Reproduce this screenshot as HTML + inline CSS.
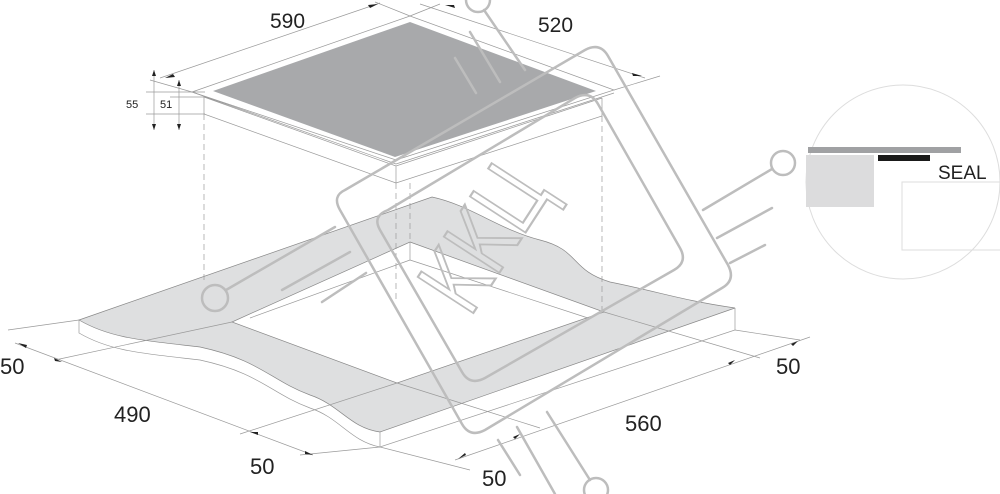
<!DOCTYPE html>
<html><head><meta charset="utf-8"><style>
html,body{margin:0;padding:0;background:#fff;}
svg{display:block;}
text{font-family:"Liberation Sans",sans-serif;fill:#222;}
</style></head><body>
<svg width="1000" height="494" viewBox="0 0 1000 494" xmlns="http://www.w3.org/2000/svg">
<g fill="none" stroke="#9a9a9a" stroke-width="0.7">
<path d="M79,320 L432,197 C470,205 500,230 540,240 C580,250 570,270 610,282 C660,292 680,300 735,308 L380,432 C350,428 340,405 310,395 C270,380 260,360 200,347 C140,340 110,338 79,320 Z" fill="#dedfe0" stroke="#888"/>
<path d="M410,242 L604,312 L397,383 L232,322 Z" fill="#fff" stroke="#888"/>
<path d="M410,242 L410,260 M410,260 L588,318 M410,260 L250,318"/>
<path d="M79,320 L79,333 C110,351 140,353 200,360 C260,373 270,393 310,408 C340,418 350,441 380,447 L735,330 L735,308"/>
<path d="M380,432 L380,447"/>
<path d="M192,92 L410,16 L614,90 L396,160 Z" fill="#fff" stroke="#999"/>
<path d="M213,91 L410,22 L596,91 L395,157 Z" fill="#a8a9ab" stroke="none"/>
<path d="M192,92 L396,164 L614,93 M204,97 L396,166 L602,98 M204,97 L204,114 L396,183 L602,116 L602,98 M396,166 L396,183"/>
<path d="M204,114 L204,282 M396,183 L396,300 M410,183 L410,242 M602,116 L602,312" stroke-dasharray="6,4"/>
<path d="M160,78 L380,3 M150,80 L192,92 M420,4 L645,78 M614,90 L660,76 M410,16 L375,2 M410,16 L440,4"/>
<path d="M154,70 L154,130 M179,80 L179,130 M146,92 L205,92 M146,114 L205,114 M170,97 L205,97"/>
<path d="M15,343 L313,455 M8,330 L79,320 M55,360 L232,322 M240,434 L397,383 M300,455 L380,447 M455,460 L810,337 M380,447 L470,470 M735,330 L800,340 M604,312 L760,358 M397,383 L540,428"/>
</g>
<g fill="#222">
<path d="M165,78 l10,-1 l-2,-3z M378,4 l-10,1 l2,3z M445,5 l10,3 l-1,-3z M642,76 l-10,-3 l1,3z"/>
<path d="M154,70 l-2,6 l4,0z M154,130 l-2,-6 l4,0z M179,80 l-2,6 l4,0z M179,130 l-2,-6 l4,0z"/>
<path d="M18,343 l8,5 l1,-3z M62,362 l-8,-4 l1,3z M250,432 l8,3 l0,-3z M313,455 l-8,-4 l0,3z M458,459 l8,-4 l-1,-2z M520,434 l-7,3 l2,2z M735,360 l-7,3 l2,2z M798,341 l-7,3 l2,2z"/>
</g>
<text x="270" y="28" font-size="21">590</text>
<text x="538" y="32" font-size="21">520</text>
<text x="126" y="108" font-size="11">55</text>
<text x="160" y="108" font-size="11">51</text>
<text x="0" y="374" font-size="22">50</text>
<text x="114" y="422" font-size="22">490</text>
<text x="250" y="474" font-size="22">50</text>
<text x="482" y="486" font-size="22">50</text>
<text x="625" y="431" font-size="22">560</text>
<text x="776" y="374" font-size="22">50</text>
<circle cx="903" cy="182" r="97" fill="#fff" stroke="#ddd" stroke-width="1"/>
<rect x="808" y="147" width="153" height="6" fill="#a0a1a3"/>
<rect x="806" y="155" width="68" height="52" fill="#dcdcdd"/>
<rect x="878" y="155" width="52" height="6" fill="#1a1a1a"/>
<rect x="902" y="182" width="100" height="68" fill="none" stroke="#ddd"/>
<text x="938" y="179" font-size="19">SEAL</text>
<g fill="none" stroke="#bdbdbd" stroke-width="2.5" stroke-linecap="round">
<path d="M345,190 L585,50 Q600,42 608,56 L728,265 Q736,280 722,288 L485,430 Q470,438 462,424 L340,210 Q332,196 345,190 Z"/>
<path d="M388,210 L575,98 Q590,90 598,104 L680,248 Q688,262 674,270 L485,378 Q470,386 462,372 L380,230 Q372,216 388,210 Z"/>
<circle cx="478" cy="0" r="12"/><path d="M484,10 L525,70 M455,58 L476,93 M470,32 L500,82"/>
<circle cx="783" cy="163" r="12"/><path d="M772,169 L703,210 M717,238 L772,208 M730,263 L765,245"/>
<circle cx="215" cy="298" r="13"/><path d="M226,290 L335,227 M282,290 L350,252 M322,302 L366,273"/>
<circle cx="596" cy="490" r="12"/><path d="M547,412 L590,480 M517,427 L555,494 M498,440 L520,475"/>
<text x="0" y="0" font-size="96" transform="translate(470,318) rotate(-57) scale(0.75,1)" style="fill:none;stroke:#bdbdbd;stroke-width:2.2">KKЦ</text>
</g>
</svg>
</body></html>
